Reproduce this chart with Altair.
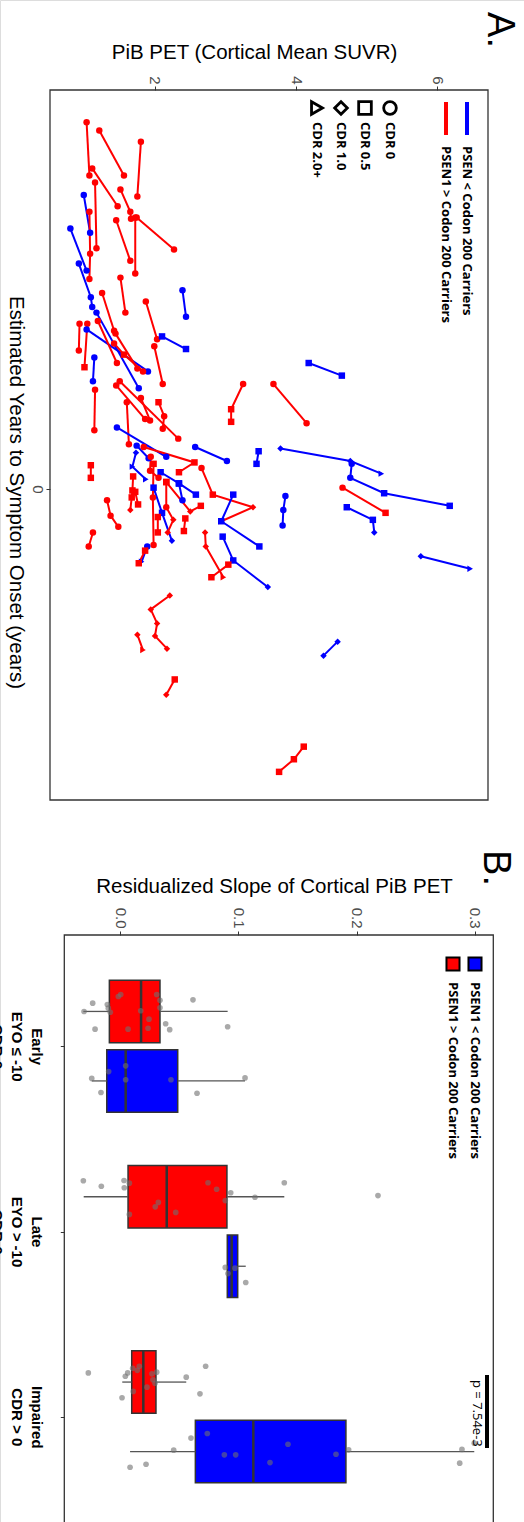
import altair as alt
import pandas as pd

# ---------------- Panel A data (one entry per participant) ----------------
GROUP_NAME = {"B": "PSEN < Codon 200 Carriers", "R": "PSEN1 > Codon 200 Carriers"}
CDR_NAME = {"c": "CDR 0", "s": "CDR 0.5", "d": "CDR 1.0", "t": "CDR 2.0+"}

A_GROUP = ["R", "R", "R", "R", "R", "R", "R", "R", "R", "B",
           "R", "B", "B", "B", "R", "R", "R", "B", "B", "R",
           "R", "B", "R", "R", "R", "B", "R", "R", "R", "R",
           "R", "R", "R", "R", "R", "B", "B", "R", "B", "B",
           "B", "B", "R", "B", "B", "B", "B", "B", "B", "B",
           "B", "R", "R", "R", "R", "R", "R", "R", "R", "R",
           "R", "R", "B", "R", "R", "B", "B", "R", "R", "R",
           "R", "B", "R", "R"]

A_SUVR = [[1.03, 1.07], [1.21, 1.56], [1.80, 1.75], [1.11, 1.47], [1.15, 1.17],
          [1.51, 1.65, 1.66], [1.74, 2.27], [1.72, 1.72], [1.45, 1.65], [0.99, 1.08],
          [1.07, 1.08, 1.07], [0.80, 1.03], [0.92, 1.09, 1.11], [1.17, 1.77], [1.51, 1.58],
          [1.25, 1.42], [1.87, 2.03], [2.39, 2.44], [2.10, 2.44], [0.93, 0.92],
          [1.04, 1.00], [1.03, 1.90], [1.19, 1.46], [1.42, 1.56, 1.83], [1.44, 1.75],
          [1.14, 1.12], [1.99, 2.11], [1.15, 1.14], [1.45, 1.86], [1.50, 2.33],
          [1.60, 1.63], [1.80, 1.93], [2.05, 2.13, 2.11], [3.25, 3.08, 3.08], [3.68, 4.15],
          [4.18, 4.65], [1.46, 2.16], [1.84, 2.56, 2.34], [2.57, 3.02], [3.47, 3.44],
          [3.78, 4.77, 5.21], [4.79, 4.77, 5.25, 6.18], [4.66, 5.27], [4.72, 5.09, 5.11], [3.85, 3.82, 3.81],
          [5.77, 6.47], [1.73, 1.68, 1.87], [1.74, 1.91], [2.08, 2.34, 2.58], [2.34, 2.39],
          [1.98, 2.10, 2.24], [1.98, 1.97, 1.98], [2.16, 2.50, 2.65], [2.16, 2.16, 2.26, 2.18], [2.04, 2.04],
          [2.43, 2.41], [1.69, 1.68, 1.67, 1.65], [1.72, 1.76], [1.09, 1.09], [1.32, 1.37, 1.48],
          [1.12, 1.06], [1.94, 1.93, 2.05], [1.89, 1.81], [1.86, 1.77], [2.66, 2.82, 3.39, 2.94],
          [3.11, 2.94, 3.48], [2.96, 3.11, 3.60], [2.71, 2.72, 2.97], [3.04, 2.80], [2.21, 1.94, 2.03, 2.00, 2.17],
          [1.75, 1.83], [4.59, 4.39], [2.28, 2.16], [4.11, 3.97, 3.76]]

A_EYO = [[-26.2, -22.4], [-25.6, -22.4], [-24.8, -20.9], [-22.9, -20.2], [-21.9, -17.2],
         [-21.4, -19.8, -19.3], [-19.4, -17.1], [-19.4, -15.4], [-19.2, -16.3], [-21.0, -18.3],
         [-19.8, -16.8, -15.0], [-18.6, -15.6], [-16.1, -13.7, -13.0], [-12.6, -7.2], [-15.1, -12.6],
         [-14.0, -11.3], [-13.4, -10.7], [-14.2, -12.3], [-10.9, -10.0], [-11.8, -9.9],
         [-11.8, -8.7], [-11.4, -8.4], [-12.0, -9.0], [-10.4, -9.6, -8.4], [-11.1, -8.6],
         [-9.4, -7.7], [-10.2, -7.5], [-7.1, -4.2], [-7.4, -5.0], [-7.7, -3.6],
         [-6.2, -3.2], [-6.5, -4.9], [-6.2, -5.2, -4.3], [-7.5, -5.7, -4.8], [-7.5, -4.7],
         [-9.0, -8.1], [-4.4, -2.3], [-3.0, -1.9, -1.2], [-3.0, -2.0], [-2.7, -1.8],
         [-2.9, -2.0, -1.1], [-1.8, -0.8, 0.3, 1.2], [-0.1, 1.7], [1.3, 2.2, 3.1], [0.5, 1.5, 2.6],
         [4.8, 5.7], [-2.6, -1.6, -0.7], [-3.1, -2.2], [-1.2, -0.4, 0.4], [-0.4, 0.8],
         [-0.1, 1.7, 3.7], [-1.8, 0.6, 4.0], [-0.5, 1.6, 1.2], [-0.5, 1.3, 2.2, 3.1], [2.0, 3.1],
         [2.1, 3.0], [-0.9, 0.1, 0.6, 1.5], [0.2, 1.1], [-1.7, -0.8], [0.8, 1.9, 2.7],
         [3.1, 4.1], [-2.3, -1.3, -0.8], [4.1, 5.2], [4.4, 5.3], [-1.5, 0.4, 1.3, 2.3],
         [0.4, 2.3, 4.1], [3.4, 5.1, 7.0], [3.1, 4.1, 6.3], [5.4, 6.3], [7.6, 8.6, 9.6, 10.5, 11.4],
         [10.4, 11.5], [10.9, 11.9], [13.6, 14.7], [18.4, 19.3, 20.2]]

A_CDR = [["c", "c"], ["c", "c"], ["c", "c"], ["c", "c"], ["c", "c"],
         ["c", "c", "c"], ["c", "c"], ["c", "c"], ["c", "c"], ["c", "c"],
         ["c", "c", "c"], ["c", "c"], ["c", "c", "c"], ["c", "c"], ["c", "c"],
         ["c", "c"], ["c", "c"], ["c", "c"], ["s", "s"], ["c", "c"],
         ["c", "s"], ["c", "c"], ["c", "c"], ["c", "s", "c"], ["c", "c"],
         ["c", "c"], ["c", "c"], ["c", "c"], ["c", "c"], ["c", "c"],
         ["c", "c"], ["c", "c"], ["s", "c", "c"], ["c", "s", "s"], ["c", "c"],
         ["s", "s"], ["c", "c"], ["c", "s", "s"], ["c", "c"], ["s", "s"],
         ["d", "d", "t"], ["c", "c", "s", "s"], ["c", "s"], ["s", "s", "d"], ["c", "c", "c"],
         ["d", "t"], ["d", "t", "t"], ["c", "c"], ["s", "s", "s"], ["s", "c"],
         ["s", "s", "d"], ["s", "c", "c"], ["s", "d", "s"], ["s", "c", "d", "d"], ["s", "s"],
         ["s", "s"], ["s", "s", "s", "d"], ["s", "s"], ["s", "s"], ["c", "c", "c"],
         ["c", "c"], ["c", "c", "c"], ["c", "t"], ["s", "s"], ["c", "s", "d", "t"],
         ["s", "s", "s"], ["s", "s", "d"], ["d", "d", "t"], ["s", "s"], ["d", "d", "d", "d", "d"],
         ["d", "t"], ["d", "d"], ["s", "d"], ["s", "s", "s"]]

# ---------------- Panel B data ----------------
B_CATS = ["Early", "Late", "Impaired"]
B_CAT_LABELS = [["Early", "EYO \u2264 -10", "CDR 0"],
                ["Late", "EYO > -10", "CDR 0"],
                ["Impaired", "CDR > 0"]]
BOX_CAT = ["Early", "Early", "Late", "Late", "Impaired", "Impaired"]
BOX_GRP = ["R", "B", "R", "B", "R", "B"]
BOX_LO = [-0.0310, -0.0239, -0.0307, 0.0907, 0.0019, 0.0085]
BOX_Q1 = [-0.0090, -0.0112, 0.0068, 0.0907, 0.0099, 0.0637]
BOX_MED = [0.0178, 0.0048, 0.0395, 0.0944, 0.0197, 0.1127]
BOX_Q3 = [0.0338, 0.0488, 0.0904, 0.0995, 0.0304, 0.1910]
BOX_HI = [0.0910, 0.1057, 0.1389, 0.1063, 0.0560, 0.2995]

EARLY_R_SLOPE = [-0.0231, -0.0304, -0.0211, -0.0107, -0.0099, -0.0082, -0.0014, 0.0006, 0.0068, 0.0175,
                 0.0237, 0.0245, 0.0310, 0.0338, 0.0338, 0.0386, 0.0420, 0.0617, 0.0910]
EARLY_R_JIT = [-0.232, -0.187, -0.092, -0.225, -0.205, -0.183, -0.268, -0.279, -0.092, -0.191,
               -0.097, -0.146, -0.279, -0.248, -0.207, -0.121, -0.089, -0.250, -0.105]
EARLY_B_SLOPE = [-0.0239, -0.0161, -0.0096, 0.0048, 0.0048, 0.0431, 0.0651, 0.1057]
EARLY_B_JIT = [0.174, 0.250, 0.137, 0.106, 0.181, 0.181, 0.254, 0.171]
LATE_R_SLOPE = [-0.0310, -0.0158, 0.0034, 0.0036, 0.0079, 0.0079, 0.0298, 0.0324, 0.0471, 0.0744,
                0.0817, 0.0890, 0.0936, 0.1141, 0.1389, 0.2181]
LATE_R_JIT = [-0.274, -0.244, -0.275, -0.236, -0.261, -0.092, -0.133, -0.157, -0.103, -0.263,
              -0.228, -0.167, -0.209, -0.185, -0.263, -0.194]
LATE_B_SLOPE = [0.0890, 0.0913, 0.0972, 0.1063]
LATE_B_JIT = [0.194, 0.227, 0.198, 0.275]
IMP_R_SLOPE = [-0.0268, 0.0017, 0.0045, 0.0065, 0.0107, 0.0112, 0.0146, 0.0163, 0.0228, 0.0270,
               0.0279, 0.0296, 0.0310, 0.0560, 0.0676, 0.0724]
IMP_R_JIT = [-0.237, -0.103, -0.219, -0.237, -0.262, -0.137, -0.251, -0.273, -0.160, -0.232,
             -0.200, -0.181, -0.241, -0.214, -0.124, -0.273]
IMP_B_SLOPE = [0.0085, 0.0220, 0.0454, 0.0600, 0.0738, 0.0882, 0.0978, 0.1268, 0.1420, 0.1826,
               0.1933, 0.2872, 0.2891, 0.2995]
IMP_B_JIT = [0.272, 0.256, 0.180, 0.115, 0.090, 0.205, 0.205, 0.247, 0.148, 0.202,
             0.178, 0.250, 0.176, 0.142]
P_TEXT = "p = 7.54e-3"

# ---------------- tables ----------------
rows = []
for sid, (g, sv, ev, cv) in enumerate(zip(A_GROUP, A_SUVR, A_EYO, A_CDR)):
    for k, (s, e, c) in enumerate(zip(sv, ev, cv)):
        rows.append({"sid": sid, "grp": GROUP_NAME[g], "suvr": s, "eyo": e,
                     "cdr": CDR_NAME[c], "visit": k})
dfA = pd.DataFrame(rows)

cat_idx = {c: i + 1 for i, c in enumerate(B_CATS)}
dfBox = pd.DataFrame({"cat": BOX_CAT, "grp": [GROUP_NAME[g] for g in BOX_GRP],
                      "lo": BOX_LO, "q1": BOX_Q1, "med": BOX_MED, "q3": BOX_Q3, "hi": BOX_HI})
dfBox["ci"] = dfBox["cat"].map(cat_idx)

pt_rows = []
for cat, g, sl, jt in [("Early", "R", EARLY_R_SLOPE, EARLY_R_JIT), ("Early", "B", EARLY_B_SLOPE, EARLY_B_JIT),
                       ("Late", "R", LATE_R_SLOPE, LATE_R_JIT), ("Late", "B", LATE_B_SLOPE, LATE_B_JIT),
                       ("Impaired", "R", IMP_R_SLOPE, IMP_R_JIT), ("Impaired", "B", IMP_B_SLOPE, IMP_B_JIT)]:
    for s, j in zip(sl, jt):
        pt_rows.append({"cat": cat, "grp": GROUP_NAME[g], "slope": s, "pos": cat_idx[cat] + j})
dfPts = pd.DataFrame(pt_rows)

GRP_DOMAIN = [GROUP_NAME["B"], GROUP_NAME["R"]]
GRP_RANGE = ["#0000ff", "#ff0000"]
color = alt.Color("grp:N", scale=alt.Scale(domain=GRP_DOMAIN, range=GRP_RANGE), legend=None)

LAB_FONT = "Liberation Sans"
LEG_FONT = "Open Sans"
TITLE_SIZE = 20.5
dummy = alt.Data(values=[{}])


def txt(s, x, y, size, weight="bold", font=LEG_FONT, angle=90, align="left", color_="black"):
    return alt.Chart(dummy).mark_text(text=s, angle=angle, align=align, baseline="middle",
                                      font=font, fontSize=size, fontWeight=weight,
                                      color=color_).encode(x=alt.value(x), y=alt.value(y))


# ---------------- Panel A ----------------
xA_scale = alt.Scale(domain=[0.511, 6.723], range=[50, 488], zero=False, nice=False)
yA_scale = alt.Scale(domain=[-28.5, 22.21], range=[90, 800], zero=False, nice=False)

xA = alt.X("suvr:Q", scale=xA_scale, axis=alt.Axis(
    orient="top", offset=-90, values=[2, 4, 6], labelAngle=90, labelAlign="right",
    labelBaseline="middle", tickSize=4, labelPadding=2, domain=False, grid=False,
    labelFont=LAB_FONT, labelFontSize=15, labelColor="#4d4d4d", tickColor="#333333",
    title="PiB PET (Cortical Mean SUVR)", titleX=254, titleY=-38, titleAngle=0,
    titleAlign="center", titleBaseline="middle", titleFont=LAB_FONT, titleFontSize=TITLE_SIZE,
    titleFontWeight="normal", titleColor="black"))
yA = alt.Y("eyo:Q", scale=yA_scale, axis=alt.Axis(
    orient="left", offset=-50, values=[0], labelAngle=90, labelAlign="center",
    labelBaseline="top", tickSize=4, labelPadding=2, domain=False, grid=False,
    labelFont=LAB_FONT, labelFontSize=15, labelColor="#4d4d4d", tickColor="#333333",
    title="Estimated Years to Symptom Onset (years)", titleX=-35, titleY=492, titleAngle=90,
    titleAlign="center", titleBaseline="middle", titleFont=LAB_FONT, titleFontSize=TITLE_SIZE,
    titleFontWeight="normal", titleColor="black"))

shape = alt.Shape("cdr:N", scale=alt.Scale(domain=["CDR 0", "CDR 0.5", "CDR 1.0", "CDR 2.0+"],
                                           range=["circle", "square", "diamond", "triangle-right"]),
                  legend=None)

linesA = alt.Chart(dfA).mark_line(strokeWidth=2).encode(
    x=xA, y=yA, color=color, detail="sid:N", order="visit:Q")
pointsA = alt.Chart(dfA).mark_point(filled=True, size=42, opacity=1).encode(
    x=xA, y=yA, color=color, shape=shape)

frameA = alt.Chart(dummy).mark_rect(filled=False, stroke="#333333", strokeWidth=1.3).encode(
    x=alt.value(50), x2=alt.value(488), y=alt.value(90), y2=alt.value(800))

legA = [
    alt.Chart(dummy).mark_rule(strokeWidth=4, color="#0000ff").encode(
        x=alt.value(467), y=alt.value(102), y2=alt.value(135)),
    alt.Chart(dummy).mark_rule(strokeWidth=4, color="#ff0000").encode(
        x=alt.value(446), y=alt.value(102), y2=alt.value(135)),
    txt(GROUP_NAME["B"], 467, 146, 13),
    txt(GROUP_NAME["R"], 446, 146, 13),
]
for (lab, shp), xx in zip([("CDR 0", "circle"), ("CDR 0.5", "square"),
                           ("CDR 1.0", "diamond"), ("CDR 2.0+", "triangle-right")],
                          [390, 365, 341, 317]):
    legA.append(alt.Chart(dummy).mark_point(shape=shp, size=160, filled=False, color="black",
                                            strokeWidth=2.8, opacity=1).encode(
        x=alt.value(xx), y=alt.value(108)))
    legA.append(txt(lab, xx, 122, 13))

panelA = alt.layer(linesA, pointsA, frameA, *legA,
                   txt("A.", 499, 30, 38, weight="normal", font=LAB_FONT, align="center"))

# ---------------- Panel B ----------------
xB_scale = alt.Scale(domain=[-0.0471, 0.3156], range=[64.3, 493.3], zero=False, nice=False)
yB_scale = alt.Scale(domain=[0.4, 3.6], range=[935, 1528], zero=False, nice=False)

label_expr = " : ".join(
    f"datum.value == {i + 1} ? {lines!r}" for i, lines in enumerate(B_CAT_LABELS[:-1])
) + f" : {B_CAT_LABELS[-1]!r}"

xB = alt.X("q1:Q", scale=xB_scale, axis=alt.Axis(
    orient="top", offset=-935, values=[0, 0.1, 0.2, 0.3], format=".1f", labelAngle=90,
    labelAlign="right", labelBaseline="middle", tickSize=4, labelPadding=3, domain=False,
    grid=False, labelFont=LAB_FONT, labelFontSize=15, labelColor="#4d4d4d",
    tickColor="#333333", title="Residualized Slope of Cortical PiB PET", titleX=274,
    titleY=-49, titleAngle=0, titleAlign="center", titleBaseline="middle",
    titleFont=LAB_FONT, titleFontSize=TITLE_SIZE, titleFontWeight="normal", titleColor="black"))
yB = alt.Y("y0:Q", scale=yB_scale, axis=alt.Axis(
    orient="left", offset=-64.3, values=[1, 2, 3], labelExpr=label_expr, labelAngle=90,
    labelAlign="center", labelBaseline="top", tickSize=4, labelPadding=17,
    labelLineHeight=20, domain=False, grid=False, labelFont=LAB_FONT, labelFontSize=15,
    labelFontWeight="bold", labelColor="black", tickColor="#333333", title=None))

boxes_base = alt.Chart(dfBox).transform_calculate(
    yc="datum.ci + (datum.grp == '%s' ? 0.1875 : -0.1875)" % GROUP_NAME["B"]
).transform_calculate(y0="datum.yc - 0.1685", y1="datum.yc + 0.1685")

boxes = boxes_base.mark_rect(stroke="#333333", strokeWidth=1.5, opacity=1).encode(
    x=xB, x2="q3:Q", y=yB, y2="y1:Q", color=color)
whisk_lo = boxes_base.mark_rule(color="#555555", strokeWidth=1.3).encode(
    x=alt.X("lo:Q", scale=xB_scale), x2="q1:Q", y=alt.Y("yc:Q", scale=yB_scale))
whisk_hi = boxes_base.mark_rule(color="#555555", strokeWidth=1.3).encode(
    x=alt.X("q3:Q", scale=xB_scale), x2="hi:Q", y=alt.Y("yc:Q", scale=yB_scale))
medians = boxes_base.mark_rule(color="#333333", strokeWidth=2.5).encode(
    x=alt.X("med:Q", scale=xB_scale), y=alt.Y("y0:Q", scale=yB_scale), y2="y1:Q")
ptsB = alt.Chart(dfPts).mark_circle(size=32, color="#707070", opacity=0.6).encode(
    x=alt.X("slope:Q", scale=xB_scale), y=alt.Y("pos:Q", scale=yB_scale))

frameB = alt.Chart(dummy).mark_rect(filled=False, stroke="#333333", strokeWidth=1.3).encode(
    x=alt.value(64.3), x2=alt.value(493.3), y=alt.value(935), y2=alt.value(1560))

legB = [
    alt.Chart(dummy).mark_square(size=170, color="#0000ff", stroke="black", strokeWidth=2,
                                 opacity=1).encode(x=alt.value(475), y=alt.value(964)),
    alt.Chart(dummy).mark_square(size=170, color="#ff0000", stroke="black", strokeWidth=2,
                                 opacity=1).encode(x=alt.value(453), y=alt.value(964)),
    txt("PSEN1 < Codon 200 Carriers", 475, 982, 13),
    txt("PSEN1 > Codon 200 Carriers", 453, 982, 13),
    alt.Chart(dummy).mark_rule(strokeWidth=4, color="black").encode(
        x=alt.value(487), y=alt.value(1375), y2=alt.value(1448)),
    txt(P_TEXT, 477, 1380, 13, weight="normal"),
    txt("B.", 495, 868, 38, weight="normal", font=LAB_FONT, align="center"),
]

panelB = alt.layer(boxes, whisk_lo, whisk_hi, medians, ptsB, frameB, *legB)

chart = alt.layer(panelA, panelB).resolve_scale(
    x="independent", y="independent"
).properties(
    width=524, height=1522, padding=0, autosize=alt.AutoSizeParams(type="none")
).configure_view(stroke=None).configure(background="white")

chart.save("out.html", embed_options={"renderer": "svg", "actions": False})
